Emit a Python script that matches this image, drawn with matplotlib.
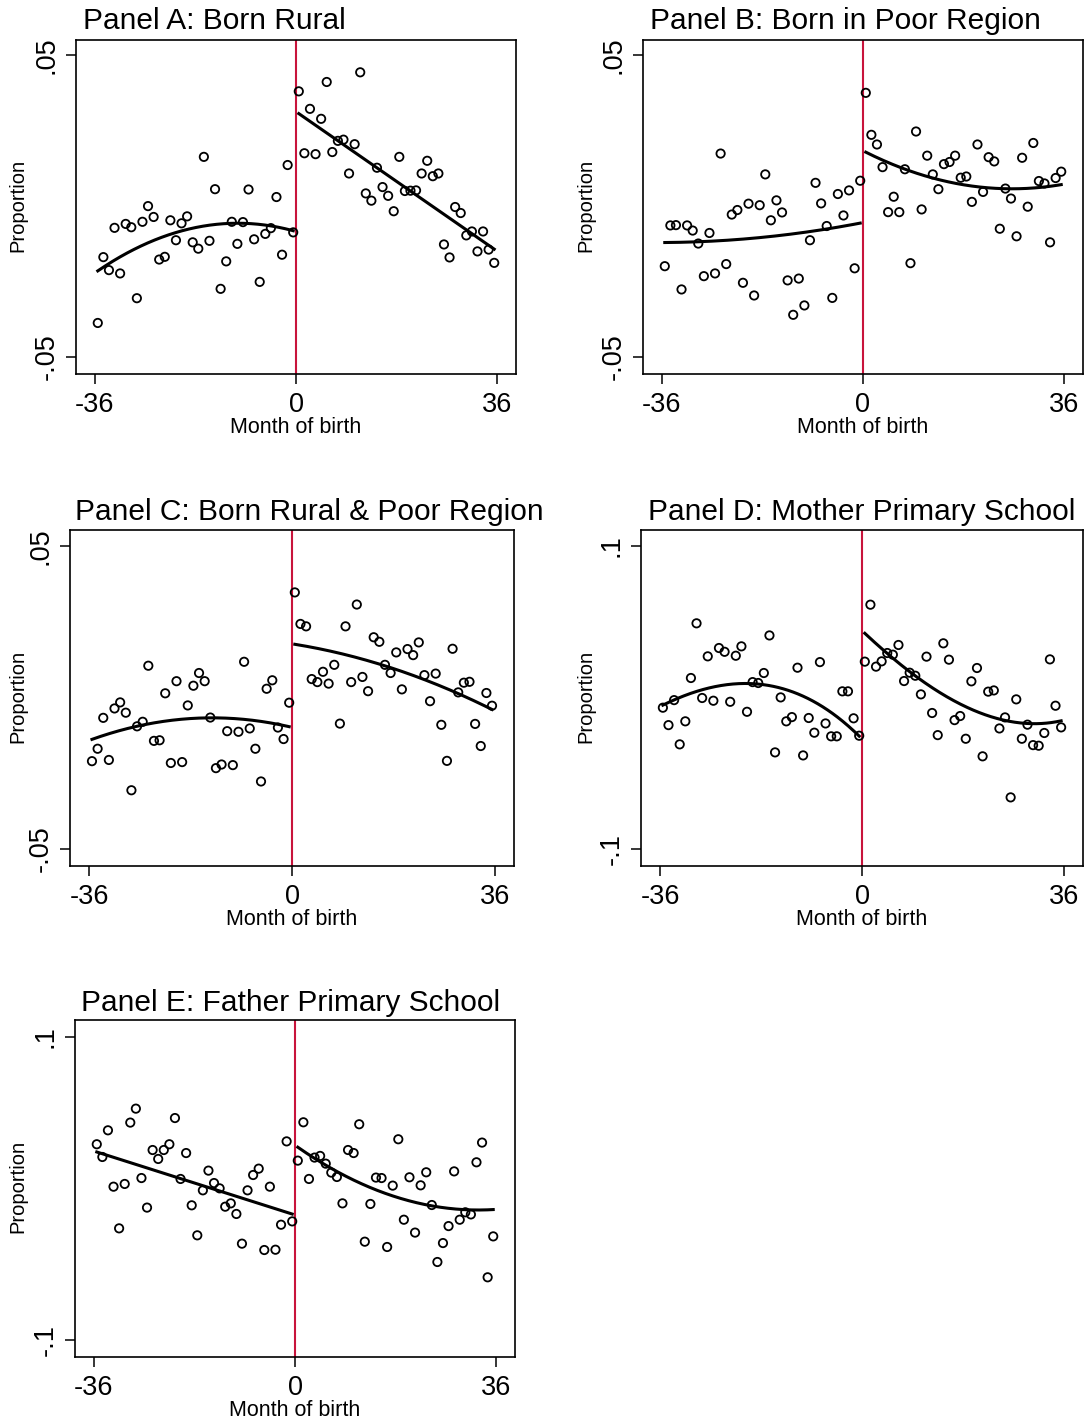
import numpy as np
import matplotlib
matplotlib.use("Agg")
import matplotlib.pyplot as plt

plt.rcParams["font.family"] = ["Liberation Sans", "DejaVu Sans"]

W, H = 1085, 1420

# bin centres, months relative to cutoff
months_left = np.arange(-35.5, 0, 1.0)
months_right = np.arange(0.5, 36, 1.0)

# ---- Panel A: Born Rural ----
a_left = [-0.0387, -0.0169, -0.0212, -0.0072, -0.0223, -0.0059, -0.0070, -0.0305, -0.0052, 0.0000,
          -0.0036, -0.0177, -0.0168, -0.0047, -0.0113, -0.0057, -0.0034, -0.0120, -0.0141, 0.0163,
          -0.0115, 0.0056, -0.0274, -0.0183, -0.0052, -0.0125, -0.0053, 0.0055, -0.0110, -0.0251,
          -0.0092, -0.0073, 0.0030, -0.0161, 0.0136, -0.0087]
a_right = [0.0380, 0.0175, 0.0322, 0.0172, 0.0289, 0.0411, 0.0179, 0.0216, 0.0220, 0.0108,
           0.0205, 0.0443, 0.0042, 0.0018, 0.0127, 0.0063, 0.0034, -0.0017, 0.0163, 0.0050,
           0.0051, 0.0052, 0.0108, 0.0150, 0.0099, 0.0108, -0.0127, -0.0170, -0.0003, -0.0023,
           -0.0097, -0.0084, -0.0150, -0.0084, -0.0144, -0.0188]

# ---- Panel B: Born in Poor Region ----
b_left = [-0.0199, -0.0064, -0.0063, -0.0276, -0.0064, -0.0081, -0.0124, -0.0232, -0.0089, -0.0223,
          0.0174, -0.0192, -0.0028, -0.0013, -0.0254, 0.0008, -0.0296, 0.0003, 0.0105, -0.0047,
          0.0019, -0.0021, -0.0246, -0.0360, -0.0240, -0.0329, -0.0113, 0.0077, 0.0009, -0.0066,
          -0.0304, 0.0040, -0.0031, 0.0052, -0.0206, 0.0084]
b_right = [0.0375, 0.0236, 0.0204, 0.0129, -0.0020, 0.0031, -0.0020, 0.0122, -0.0189, 0.0247,
           -0.0011, 0.0167, 0.0105, 0.0056, 0.0139, 0.0146, 0.0167, 0.0094, 0.0098, 0.0014,
           0.0204, 0.0047, 0.0162, 0.0148, -0.0075, 0.0058, 0.0025, -0.0100, 0.0160, -0.0002,
           0.0209, 0.0083, 0.0075, -0.0120, 0.0093, 0.0114]

# ---- Panel C: Born Rural & Poor Region ----
c_left = [-0.0210, -0.0169, -0.0067, -0.0206, -0.0036, -0.0016, -0.0050, -0.0306, -0.0095, -0.0080,
          0.0105, -0.0143, -0.0141, 0.0014, -0.0216, 0.0054, -0.0213, -0.0026, 0.0039, 0.0081,
          0.0054, -0.0066, -0.0233, -0.0221, -0.0111, -0.0223, -0.0113, 0.0118, -0.0102, -0.0169,
          -0.0277, 0.0029, 0.0057, -0.0099, -0.0137, -0.0017]
c_right = [0.0347, 0.0243, 0.0235, 0.0061, 0.0051, 0.0085, 0.0046, 0.0108, -0.0086, 0.0235,
           0.0051, 0.0307, 0.0068, 0.0021, 0.0199, 0.0184, 0.0108, 0.0081, 0.0149, 0.0027,
           0.0160, 0.0140, 0.0182, 0.0074, -0.0012, 0.0079, -0.0090, -0.0209, 0.0161, 0.0017,
           0.0049, 0.0052, -0.0087, -0.0160, 0.0015, -0.0027]

# ---- Panel D: Mother Primary School ----
d_left = [-0.0067, -0.0182, -0.0017, -0.0309, -0.0157, 0.0129, 0.0490, -0.0003, 0.0272, -0.0021,
          0.0327, 0.0302, -0.0028, 0.0276, 0.0338, -0.0094, 0.0102, 0.0096, 0.0162, 0.0410,
          -0.0362, 0.0001, -0.0157, -0.0129, 0.0197, -0.0382, -0.0135, -0.0232, 0.0234, -0.0171,
          -0.0256, -0.0256, 0.0041, 0.0041, -0.0137, -0.0252]
d_right = [0.0237, 0.0613, 0.0204, 0.0239, 0.0294, 0.0283, 0.0347, 0.0109, 0.0164, 0.0144,
           0.0021, 0.0270, -0.0102, -0.0248, 0.0358, 0.0250, -0.0149, -0.0122, -0.0272, 0.0107,
           0.0195, -0.0388, 0.0039, 0.0047, -0.0204, -0.0131, -0.0659, -0.0012, -0.0272, -0.0179,
           -0.0314, -0.0318, -0.0234, 0.0252, -0.0054, -0.0197]

# ---- Panel E: Father Primary School ----
e_left = [0.0292, 0.0208, 0.0384, 0.0012, -0.0263, 0.0030, 0.0435, 0.0527, 0.0069, -0.0126,
          0.0254, 0.0195, 0.0254, 0.0292, 0.0465, 0.0063, 0.0234, -0.0111, -0.0309, -0.0012,
          0.0118, 0.0036, 0.0001, -0.0120, -0.0098, -0.0168, -0.0364, -0.0012, 0.0089, 0.0131,
          -0.0406, 0.0012, -0.0404, -0.0239, 0.0311, -0.0217]
e_right = [0.0184, 0.0437, 0.0063, 0.0204, 0.0215, 0.0164, 0.0105, 0.0076, -0.0098, 0.0254,
           0.0234, 0.0424, -0.0351, -0.0102, 0.0072, 0.0069, -0.0386, 0.0019, 0.0325, -0.0206,
           0.0074, -0.0291, 0.0021, 0.0107, -0.0109, -0.0485, -0.0360, -0.0248, 0.0113, -0.0206,
           -0.0157, -0.0171, 0.0173, 0.0303, -0.0586, -0.0316]

# fitted curves
fit_xl = [-35.5, -29.5, -23.5, -17.5, -11.5, -5.5, -0.5]
fit_xr = [0.5, 6.5, 12.5, 18.5, 24.5, 30.5, 35.5]
fit_xl13 = [-35.5, -32.5, -29.5, -26.5, -23.5, -20.5, -17.5, -14.5, -11.5, -8.5, -5.5, -2.5, -0.5]
fit_xr13 = [0.5, 3.5, 6.5, 9.5, 12.5, 15.5, 18.5, 21.5, 24.5, 27.5, 30.5, 33.5, 35.5]

a_fit_l = [-0.0214, -0.0148, -0.0102, -0.0068, -0.0056, -0.0063, -0.0082]
a_fit_r = [0.0305, 0.0229, 0.0154, 0.0076, -0.0001, -0.0078, -0.0144]
b_fit_l = [-0.0121, -0.0117, -0.0113, -0.0103, -0.0088, -0.0074, -0.0056]
b_fit_r = [0.0177, 0.0131, 0.0095, 0.0068, 0.0056, 0.0060, 0.0072]
c_fit_l = [-0.0138, -0.0104, -0.0080, -0.0069, -0.0068, -0.0079, -0.0096]
c_fit_r = [0.0177, 0.0153, 0.0126, 0.0093, 0.0052, 0.0007, -0.0041]
d_fit_l = [-0.0045, -0.0001, 0.0032, 0.0067, 0.0087, 0.0098, 0.0089, 0.0067, 0.0028,
           -0.0034, -0.0105, -0.0193, -0.0245]
d_fit_r = [0.0417, 0.0331, 0.0232, 0.0146, 0.0065, -0.0006, -0.0067, -0.0111, -0.0142,
           -0.0160, -0.0166, -0.0164, -0.0160]
e_fit_l = [0.0239, 0.0170, 0.0101, 0.0032, -0.0037, -0.0106, -0.0175]
e_fit_r = [0.0267, 0.0142, 0.0023, -0.0065, -0.0118, -0.0138, -0.0138]

panels = [
    dict(title="Panel A: Born Rural", left=a_left, right=a_right,
         fl=(fit_xl, a_fit_l, 2), fr=(fit_xr, a_fit_r, 1),
         rect=(76, 40, 516, 374), ylim=(-0.0556, 0.0550), yt=[-0.05, 0.05], ytl=["-.05", ".05"],
         title_xy=(83, 20), ylab_x=18),
    dict(title="Panel B: Born in Poor Region", left=b_left, right=b_right,
         fl=(fit_xl, b_fit_l, 2), fr=(fit_xr, b_fit_r, 2),
         rect=(643, 40, 1083, 374), ylim=(-0.0556, 0.0550), yt=[-0.05, 0.05], ytl=["-.05", ".05"],
         title_xy=(650, 20), ylab_x=586),
    dict(title="Panel C: Born Rural & Poor Region", left=c_left, right=c_right,
         fl=(fit_xl, c_fit_l, 2), fr=(fit_xr, c_fit_r, 2),
         rect=(70, 530, 514, 866), ylim=(-0.0556, 0.0553), yt=[-0.05, 0.05], ytl=["-.05", ".05"],
         title_xy=(75, 511), ylab_x=18),
    dict(title="Panel D: Mother Primary School", left=d_left, right=d_right,
         fl=(fit_xl13, d_fit_l, 3), fr=(fit_xr13, d_fit_r, 3),
         rect=(641, 530, 1083, 866), ylim=(-0.1112, 0.1106), yt=[-0.1, 0.1], ytl=["-.1", ".1"],
         title_xy=(648, 511), ylab_x=586),
    dict(title="Panel E: Father Primary School", left=e_left, right=e_right,
         fl=(fit_xl, e_fit_l, 1), fr=(fit_xr, e_fit_r, 2),
         rect=(75, 1020, 515, 1357), ylim=(-0.1112, 0.1112), yt=[-0.1, 0.1], ytl=["-.1", ".1"],
         title_xy=(81, 1002), ylab_x=18),
]

fig = plt.figure(figsize=(W / 100, H / 100), dpi=100)

for p in panels:
    x0, y0, x1, y1 = p["rect"]
    ax = fig.add_axes([x0 / W, 1 - y1 / H, (x1 - x0) / W, (y1 - y0) / H])
    ax.scatter(months_left, p["left"], s=36, facecolors="none", edgecolors="black",
               linewidths=1.3, zorder=3)
    ax.scatter(months_right, p["right"], s=36, facecolors="none", edgecolors="black",
               linewidths=1.3, zorder=3)
    for fx, fy, deg in (p["fl"], p["fr"]):
        coef = np.polyfit(fx, fy, deg)
        xs = np.linspace(fx[0], fx[-1], 200)
        ax.plot(xs, np.polyval(coef, xs), color="black", lw=2.2, zorder=4)
    ax.axvline(0, color="#C8143C", lw=1.5, zorder=2)

    ax.set_xlim(-39.4, 39.4)
    ax.set_ylim(*p["ylim"])
    ax.set_xticks([-36, 0, 36])
    ax.set_xticklabels(["-36", "0", "36"])
    ax.set_yticks(p["yt"])
    ax.set_yticklabels(p["ytl"], rotation=90, va="center")
    ax.tick_params(axis="both", direction="out", length=7, width=1.1, labelsize=19.5)
    ax.tick_params(axis="x", pad=6)
    ax.tick_params(axis="y", pad=5)
    for s in ax.spines.values():
        s.set_linewidth(1.2)
        s.set_color("black")

    ax.set_xlabel("Month of birth", fontsize=15.5, labelpad=-0.5)
    # y label placed in figure pixels
    fig.text(p["ylab_x"] / W, 1 - ((y0 + y1) / 2 - 2) / H, "Proportion", rotation=90,
             ha="center", va="center", fontsize=14.5)
    tx, ty = p["title_xy"]
    fig.text(tx / W, 1 - (ty + 1) / H, p["title"], ha="left", va="center", fontsize=21.5)

fig.savefig("out.png", dpi=100, facecolor="white")
